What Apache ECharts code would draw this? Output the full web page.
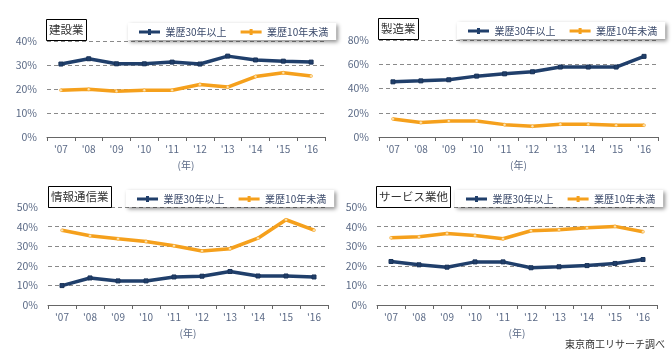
<!DOCTYPE html>
<html><head><meta charset="utf-8">
<script src="https://cdn.jsdelivr.net/npm/echarts@6/dist/echarts.min.js"></script>
<style>html,body{margin:0;padding:0;background:#fff}#c{width:672px;height:356px}</style>
</head><body><div id="c"></div>
<script>
const years = ["'07","'08","'09","'10","'11","'12","'13","'14","'15","'16"];
const seriesNames = ['業歴30年以上','業歴10年未満'];
const panelTitles = ['建設業','製造業','情報通信業','サービス業他'];
const yMax = [40, 80, 50, 50];
const yStep = [10, 20, 10, 10];
// 建設業
const kensetsu30 = [30.4,32.6,30.5,30.5,31.2,30.4,33.7,32.1,31.6,31.2];
const kensetsu10 = [19.5,19.9,19.1,19.5,19.5,21.9,20.8,25.2,26.8,25.4];
// 製造業
const seizo30 = [45.5,46.3,47.2,50.2,52.1,53.8,57.7,57.7,57.7,66.5];
const seizo10 = [14.9,11.9,13.2,13.2,10.2,8.8,10.5,10.5,9.7,9.7];
// 情報通信業
const joho30 = [9.9,13.8,12.3,12.3,14.3,14.7,17.1,14.8,14.8,14.3];
const joho10 = [38.1,35.3,33.8,32.4,30.2,27.6,28.7,34.1,43.5,38.2];
// サービス業他
const service30 = [22.2,20.5,19.3,22.0,22.0,19.0,19.5,20.1,21.2,23.2];
const service10 = [34.3,34.8,36.5,35.5,33.8,37.9,38.4,39.4,40.1,37.4];
const credit = '東京商工リサーチ調べ';

const data30 = [kensetsu30, seizo30, joho30, service30];
const data10 = [kensetsu10, seizo10, joho10, service10];

const NAVY = '#203f6b', ORANGE = '#f5a01c';
const FONT = '"Noto Sans CJK JP","Noto Sans",sans-serif';
const grids = [
  {left:47, right:347, top:41, bottom:219},
  {left:379, right:14, top:40, bottom:219},
  {left:48, right:344, top:207, bottom:51},
  {left:377, right:15, top:207, bottom:51}
];
const titlePos = [{left:46, top:19},{left:378,top:18},{left:48,top:186},{left:376,top:186}];
const legendPos = [
  {left:128, top:23},
  {left:457, top:22},
  {left:126, top:190},
  {left:455, top:190}
];
const axisLabelColor = '#5b6a86';
const ICON = 'path://M0,3H12V1H16V3H28V7H16V9H12V7H0Z';
const colors = [NAVY, ORANGE];

const option = {
  animation:false,
  textStyle:{fontFamily:FONT},
  title: panelTitles.map((t,i)=>({
    text:t, left:titlePos[i].left, top:titlePos[i].top,
    borderColor:'#000', borderWidth:1, backgroundColor:'#fff',
    padding:[4,3,4,3],
    textStyle:{fontSize:11.5, fontWeight:'normal', color:'#333', fontFamily:FONT, lineHeight:14}
  })).concat([{text:credit, right:7, bottom:7, padding:0,
    textStyle:{fontSize:10, fontWeight:'normal', color:'#333', fontFamily:FONT}}]),
  legend: legendPos.map((p,i)=>({
    left:p.left, top:p.top, orient:'horizontal',
    data:seriesNames.map((n,k)=>({name:n, icon:ICON, itemStyle:{color:colors[k], borderWidth:0}})),
    itemWidth:26, itemHeight:6, itemGap:14,
    padding:[4,8,3,11],
    backgroundColor:'#fff',
    shadowColor:'rgba(0,0,0,0.45)', shadowBlur:4, shadowOffsetX:2, shadowOffsetY:2,
    textStyle:{fontSize:10, color:'#3b4a6b', fontFamily:FONT, padding:[0,0,0,-2]},
    selectedMode:false
  })),
  grid: grids,
  xAxis: grids.map((g,i)=>({
    type:'category', gridIndex:i, data:years, boundaryGap:true,
    name:'(年)', nameLocation:'middle', nameGap:23,
    nameTextStyle:{fontSize:10, color:axisLabelColor},
    axisLine:{lineStyle:{color:'#666', width:1}},
    axisTick:{show:true, length:4, lineStyle:{color:'#666'}},
    axisLabel:{fontSize:10, color:axisLabelColor, margin:7}
  })),
  yAxis: grids.map((g,i)=>({
    type:'value', gridIndex:i, min:0, max:yMax[i], interval:yStep[i],
    axisLine:{show:false}, axisTick:{show:false},
    axisLabel:{fontSize:10.5, color:axisLabelColor, margin:10, formatter:'{value}%'},
    splitLine:{lineStyle:{type:[4,3], color:'#8a8a8a', width:1}}
  })),
  series: []
};
for (let i=0;i<4;i++){
  option.series.push({
    name:seriesNames[0], type:'line', xAxisIndex:i, yAxisIndex:i, data:data30[i],
    symbol:'rect', symbolSize:4, showAllSymbol:true,
    lineStyle:{color:NAVY, width:3.5}, itemStyle:{color:NAVY, borderColor:'#1a3358', borderWidth:1}
  });
  option.series.push({
    name:seriesNames[1], type:'line', xAxisIndex:i, yAxisIndex:i, data:data10[i],
    symbol:'circle', symbolSize:3, showAllSymbol:true,
    lineStyle:{color:ORANGE, width:3.5}, itemStyle:{color:'#fbe3b5', borderColor:ORANGE, borderWidth:0.5}
  });
}
const chart = echarts.init(document.getElementById('c'), null, {renderer:'canvas'});
chart.setOption(option);
</script>
</body></html>
